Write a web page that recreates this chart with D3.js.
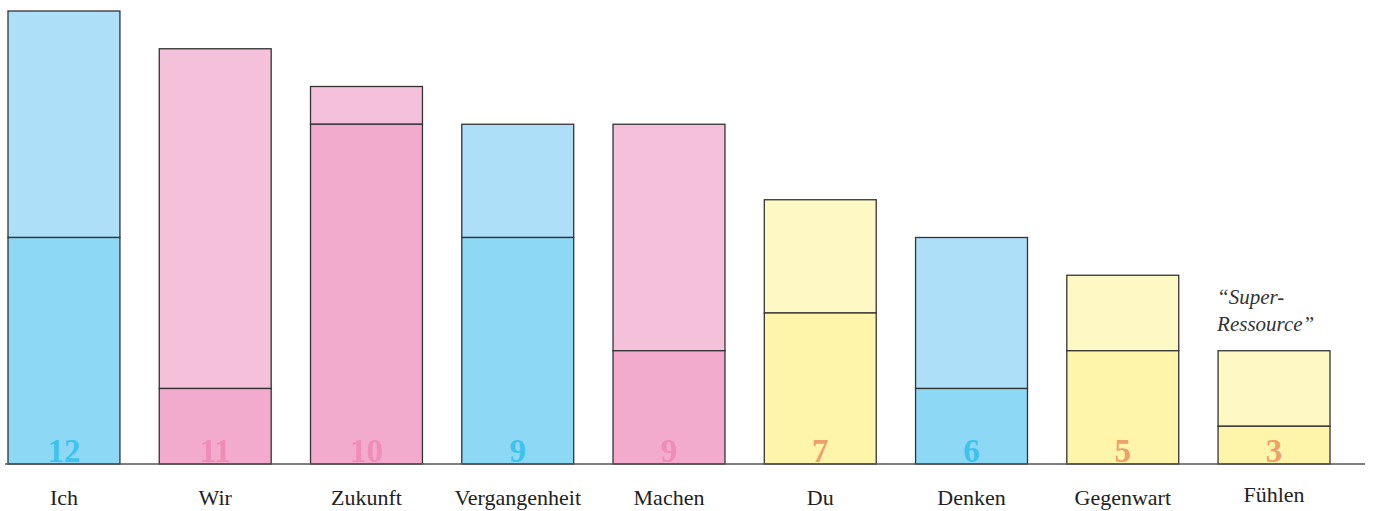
<!DOCTYPE html>
<html>
<head>
<meta charset="utf-8">
<script src="https://cdn.jsdelivr.net/npm/d3@7"></script>
<style>
  body { margin: 0; background: #fff; }
  svg text { font-family: "Liberation Serif", "DejaVu Serif", serif; }
</style>
</head>
<body>
<div id="chart"></div>
<script>
// data
var categories = ['Ich', 'Wir', 'Zukunft', 'Vergangenheit', 'Machen', 'Du', 'Denken', 'Gegenwart', 'Fühlen'];
var totals = [12, 11, 10, 9, 9, 7, 6, 5, 3];
var lower = [6, 2, 9, 6, 3, 4, 2, 3, 1];
var groups = ['blue', 'pink', 'pink', 'blue', 'pink', 'yellow', 'blue', 'yellow', 'yellow'];
var note = ['\u201cSuper-', 'Ressource\u201d'];

var palette = {
  blue:   { top: '#ade0f8', bottom: '#8dd8f5', text: '#3fc3ee' },
  pink:   { top: '#f5c1da', bottom: '#f2abcd', text: '#f08cb8' },
  yellow: { top: '#fef8c4', bottom: '#fef5aa', text: '#eea06a' }
};

var W = 1373, H = 511, base = 464;
var svg = d3.select('#chart').append('svg').attr('width', W).attr('height', H);

var x = d3.scaleBand().domain(categories).range([8, 1330]).paddingInner(0.26).paddingOuter(0);
var y = d3.scaleLinear().domain([0, 12]).range([base, 11]);

var g = svg.append('g');
categories.forEach(function (c, i) {
  var col = palette[groups[i]];
  g.append('rect')
    .attr('x', x(c)).attr('y', y(totals[i]))
    .attr('width', x.bandwidth()).attr('height', y(lower[i]) - y(totals[i]))
    .attr('fill', col.top).attr('stroke', '#333').attr('stroke-width', 1.3);
  g.append('rect')
    .attr('x', x(c)).attr('y', y(lower[i]))
    .attr('width', x.bandwidth()).attr('height', base - y(lower[i]))
    .attr('fill', col.bottom).attr('stroke', '#333').attr('stroke-width', 1.3);
  g.append('text')
    .attr('x', x(c) + x.bandwidth() / 2).attr('y', base - 2)
    .attr('text-anchor', 'middle').attr('font-size', 33).attr('font-weight', 'bold')
    .attr('fill', col.text).text(totals[i]);
});

// baseline
svg.append('line').attr('x1', 5).attr('x2', 1365).attr('y1', base).attr('y2', base)
  .attr('stroke', '#555').attr('stroke-width', 1.5);

// category labels
svg.append('g').selectAll('text').data(categories).join('text')
  .attr('x', function (d) { return x(d) + x.bandwidth() / 2; })
  .attr('y', function (d) { return d === 'Fühlen' ? 502 : 505; })
  .attr('text-anchor', 'middle').attr('font-size', 22).attr('fill', '#222')
  .text(function (d) { return d; });

// annotation over the last bar
var last = categories[categories.length - 1];
svg.append('g').selectAll('text').data(note).join('text')
  .attr('x', x(last) - 1).attr('y', function (d, i) { return 304 + i * 27; })
  .attr('font-size', 21).attr('font-style', 'italic').attr('fill', '#333')
  .text(function (d) { return d; });
</script>
</body>
</html>
